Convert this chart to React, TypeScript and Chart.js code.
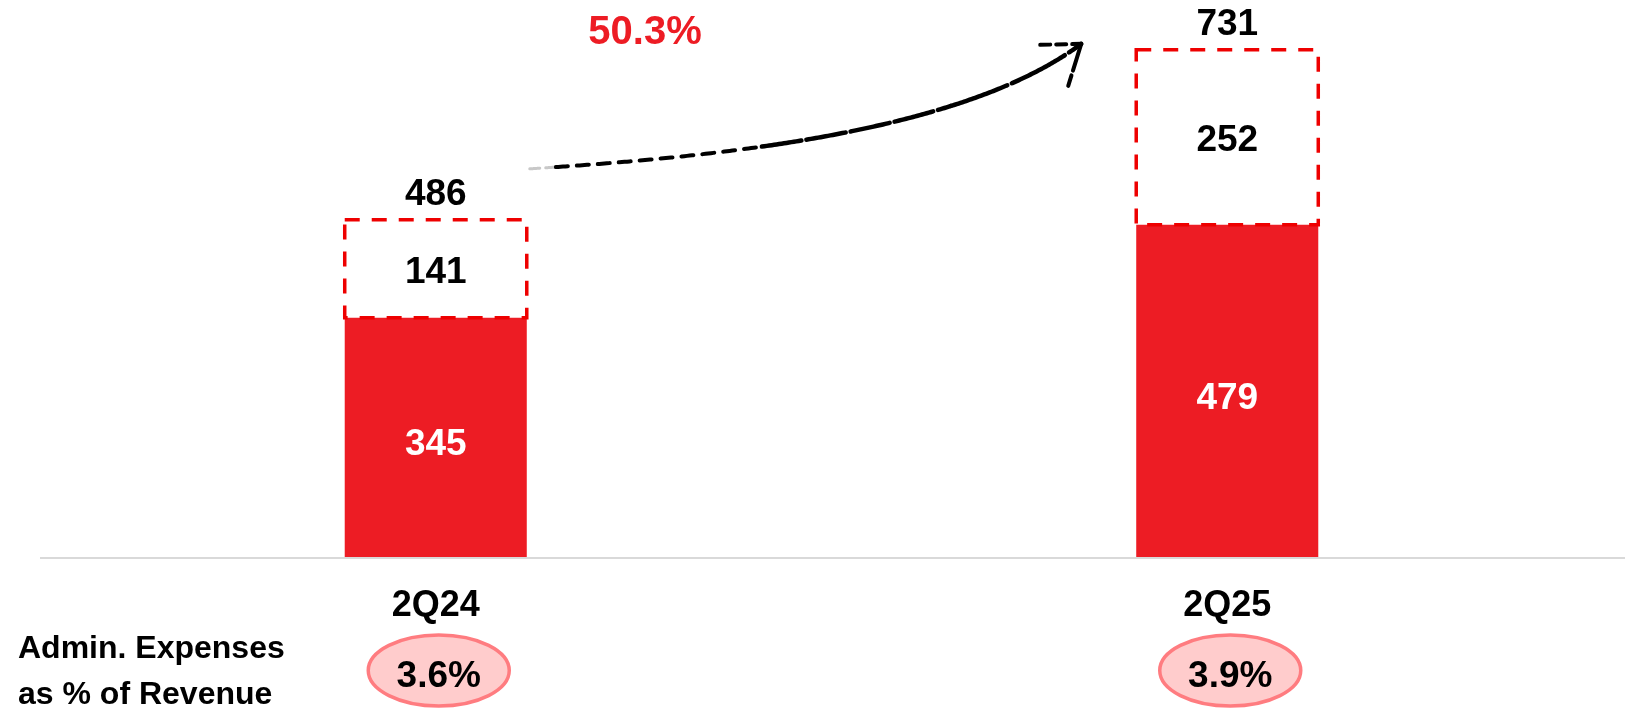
import React, { useEffect, useRef } from "react";
import { Chart, registerables } from "chart.js";

Chart.register(...registerables);

const categories = ["2Q24", "2Q25"];
const baseExpenses = [345, 479];
const incrementExpenses = [141, 252];
const totalExpenses = [486, 731];
const revenueShare = ["3.6%", "3.9%"];
const growthLabel = "50.3%";
const sideLabel = ["Admin. Expenses", "as % of Revenue"];

const RED = "#ED1C24";
const DASH_RED = "#EE0000";
const FONT = "'Liberation Sans', Arial, Helvetica, sans-serif";

function bez(p0: number[], c1: number[], c2: number[], p3: number[], t: number) {
  const u = 1 - t;
  const a = u * u * u, b = 3 * u * u * t, c = 3 * u * t * t, d = t * t * t;
  return [a * p0[0] + b * c1[0] + c * c2[0] + d * p3[0], a * p0[1] + b * c1[1] + c * c2[1] + d * p3[1]];
}

export default function App() {
  const ref = useRef<HTMLCanvasElement>(null);

  useEffect(() => {
    const overlay = {
      id: "overlay",
      beforeDatasetsDraw(chart: any) {
        const { ctx, chartArea, scales } = chart;
        const y0 = scales.y.getPixelForValue(0);
        ctx.save();
        ctx.strokeStyle = "#D9D9D9";
        ctx.lineWidth = 2;
        ctx.beginPath();
        ctx.moveTo(chartArea.left, y0 + 1);
        ctx.lineTo(chart.width, y0 + 1);
        ctx.stroke();
        ctx.restore();
      },
      afterDatasetsDraw(chart: any) {
        const { ctx } = chart;
        const baseMeta = chart.getDatasetMeta(0);
        const incMeta = chart.getDatasetMeta(1);
        ctx.save();
        const bars: any[] = [];
        categories.forEach((cat, i) => {
          const b = baseMeta.data[i].getProps(["x", "y", "base", "width"], true);
          const inc = incMeta.data[i].getProps(["x", "y", "base", "width"], true);
          bars.push({ b, inc });
          // dashed box
          ctx.setLineDash([15, 12]);
          ctx.strokeStyle = DASH_RED;
          ctx.lineWidth = 3.5;
          ctx.strokeRect(inc.x - inc.width / 2, inc.y, inc.width, inc.base - inc.y);
          ctx.setLineDash([]);

          ctx.textAlign = "center";
          ctx.textBaseline = "alphabetic";
          ctx.font = `bold 37px ${FONT}`;
          // base value (white)
          ctx.fillStyle = "#FFFFFF";
          ctx.fillText(String(baseExpenses[i]), b.x, (b.y + b.base) / 2 + 18);
          // increment value
          ctx.fillStyle = "#000000";
          ctx.fillText(String(incrementExpenses[i]), inc.x, (inc.y + inc.base) / 2 + 14);
          // total
          ctx.fillText(String(totalExpenses[i]), inc.x, inc.y - 15);
          // category
          ctx.font = `bold 36px ${FONT}`;
          ctx.fillText(cat, b.x, 616);
          // ellipse
          ctx.beginPath();
          ctx.ellipse(b.x + 3, 670.5, 70.5, 35.5, 0, 0, Math.PI * 2);
          ctx.fillStyle = "#FFCCCC";
          ctx.fill();
          ctx.lineWidth = 3.5;
          ctx.strokeStyle = "#FF7C80";
          ctx.stroke();
          ctx.fillStyle = "#000000";
          ctx.font = `bold 37px ${FONT}`;
          ctx.fillText(revenueShare[i], b.x + 3, 687);
        });

        // side label
        ctx.textAlign = "left";
        ctx.font = `bold 32px ${FONT}`;
        ctx.fillStyle = "#000000";
        ctx.fillText(sideLabel[0], 18, 658);
        ctx.fillText(sideLabel[1], 18, 704);

        // growth label
        ctx.textAlign = "center";
        ctx.font = `bold 40px ${FONT}`;
        ctx.fillStyle = RED;
        ctx.fillText(growthLabel, 645, 44);

        // arrow
        const b1 = bars[0].inc, b2 = bars[1].inc;
        const p0 = [b1.x + b1.width / 2 + 3, b1.y - 51];
        const p3 = [b2.x - b2.width / 2 - 55, b2.y - 6];
        const c1 = [p0[0] + 170, p0[1] - 11];
        const c2 = [p3[0] - 123, p3[1] + 92];
        ctx.lineCap = "round";
        ctx.lineJoin = "round";
        const drawPart = (t0: number, t1: number, color: string, dash: number[], lw: number) => {
          ctx.beginPath();
          const n = 80;
          for (let k = 0; k <= n; k++) {
            const t = t0 + ((t1 - t0) * k) / n;
            const p = bez(p0, c1, c2, p3, t);
            if (k === 0) ctx.moveTo(p[0], p[1]);
            else ctx.lineTo(p[0], p[1]);
          }
          ctx.setLineDash(dash);
          ctx.strokeStyle = color;
          ctx.lineWidth = lw;
          ctx.stroke();
        };
        drawPart(0, 0.05, "#C8C8C8", [10, 6], 3);
        drawPart(0.05, 0.4, "#000000", [12, 9], 4);
        drawPart(0.4, 0.72, "#000000", [40, 5], 4.5);
        drawPart(0.72, 1, "#000000", [60, 5], 4.5);
        // arrowhead
        ctx.setLineDash([10, 6]);
        ctx.lineWidth = 4;
        ctx.beginPath();
        ctx.moveTo(p3[0] - 41, p3[1] + 1);
        ctx.lineTo(p3[0], p3[1]);
        ctx.stroke();
        ctx.setLineDash([28, 5]);
        ctx.beginPath();
        ctx.moveTo(p3[0], p3[1]);
        ctx.lineTo(p3[0] - 13, p3[1] + 42);
        ctx.stroke();
        ctx.restore();
      },
    };

    const chart = new Chart(ref.current as HTMLCanvasElement, {
      type: "bar",
      data: {
        labels: categories,
        datasets: [
          {
            label: "Base",
            data: baseExpenses,
            backgroundColor: RED,
            borderWidth: 0,
            barPercentage: 0.23,
            categoryPercentage: 1,
          },
          {
            label: "Increment",
            data: incrementExpenses,
            backgroundColor: "rgba(0,0,0,0)",
            borderWidth: 0,
            barPercentage: 0.23,
            categoryPercentage: 1,
          },
        ],
      },
      options: {
        animation: false,
        responsive: true,
        maintainAspectRatio: false,
        layout: { padding: { left: 40, right: 2, top: 2, bottom: 153 } },
        plugins: { legend: { display: false }, tooltip: { enabled: false } },
        scales: {
          x: { display: false, stacked: true },
          y: { display: false, stacked: true, min: 0, max: 800 },
        },
      },
      plugins: [overlay],
    });
    return () => chart.destroy();
  }, []);

  return (
    <div style={{ position: "absolute", left: 0, top: 0, width: 1625, height: 710, background: "#fff" }}>
      <canvas ref={ref} />
    </div>
  );
}
